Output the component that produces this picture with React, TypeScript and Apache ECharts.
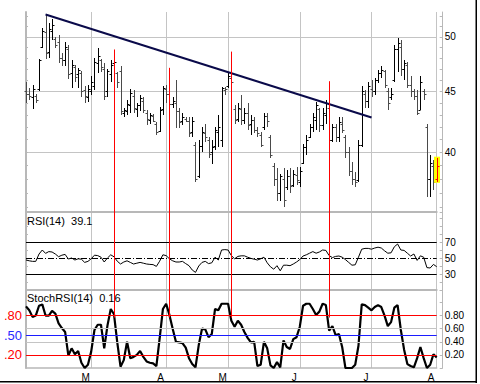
import React, { useEffect, useRef } from 'react';
import * as echarts from 'echarts';

const FONT = '"Liberation Sans", Arial, sans-serif';

const monthNames = ['Feb', 'Mar', 'Apr', 'May', 'Jun', 'Jul', 'Aug'];
const monthLetters = ['F', 'M', 'A', 'M', 'J', 'J', 'A'];
const monthCounts = [20, 23, 19, 22, 22, 20, 1];

const opens = [
  45.0, 44.8, 44.5, 44.6, 45.2, 49.0, 50.5, 48.6, 50.6, 49.8,
  49.5, 48.0, 47.8, 48.8, 46.6, 47.2, 46.5, 46.6, 45.1, 44.5,
  45.0, 45.5, 47.5, 47.8, 47.0, 45.0, 46.5, 47.5, 46.6, 46.8,
  43.2, 43.3, 43.8, 44.6, 43.5, 43.8, 44.2, 43.2, 42.6, 42.9,
  42.3, 41.7, 43.5, 45.2, 44.8, 43.9, 44.0, 43.3, 42.5, 42.7,
  42.5, 41.6, 40.6, 38.2, 40.5, 41.5, 41.0, 40.0, 40.5, 41.6,
  41.0, 45.1, 45.5, 46.2, 43.5, 42.7, 43.5, 42.6, 43.2, 42.3,
  42.6, 41.8, 41.4, 42.0, 42.9, 41.2, 39.0, 38.0, 37.0, 38.0,
  37.4, 38.2, 37.6, 38.3, 37.8, 39.2, 40.4, 41.2, 42.0, 42.6,
  43.5, 42.2, 43.0, 43.6, 41.0, 42.0, 41.2, 42.3, 41.2, 40.0,
  38.6, 38.0, 37.9, 40.6, 44.8, 44.2, 45.2, 45.0, 46.0, 46.6,
  46.8, 45.0, 44.5, 46.0, 48.8, 49.0, 47.0, 47.4, 45.6, 45.0,
  44.6, 43.4, 45.0, 42.0, 38.0, 39.0, 38.0,
];
const highs = [
  45.8, 45.3, 45.6, 44.8, 47.9, 50.9, 52.3, 51.4, 51.8, 50.0,
  50.2, 48.5, 49.5, 49.2, 47.8, 47.4, 47.1, 46.8, 45.5, 45.6,
  46.4, 48.0, 48.9, 47.9, 47.5, 47.0, 47.8, 47.8, 46.7, 47.3,
  43.6, 44.3, 45.2, 45.1, 44.0, 44.7, 44.5, 43.4, 43.2, 43.1,
  42.4, 43.7, 45.5, 45.6, 46.0, 44.5, 46.0, 43.6, 43.2, 42.8,
  42.8, 42.8, 40.8, 41.0, 42.0, 42.3, 41.2, 41.0, 42.0, 43.0,
  45.4, 45.4, 46.7, 46.3, 43.8, 44.0, 44.7, 43.6, 44.0, 43.0,
  42.8, 42.0, 41.6, 43.2, 43.2, 41.4, 39.2, 38.8, 38.4, 38.8,
  38.7, 38.8, 38.7, 38.9, 38.9, 40.7, 41.4, 42.3, 43.2, 44.1,
  43.6, 43.6, 44.3, 43.8, 42.3, 42.3, 42.8, 42.8, 41.4, 40.4,
  39.3, 38.5, 41.0, 45.5, 45.1, 45.8, 46.0, 46.2, 46.9, 47.3,
  46.9, 45.3, 45.3, 49.2, 49.9, 49.7, 47.8, 47.6, 46.4, 45.2,
  45.1, 46.4, 45.2, 42.3, 39.8, 39.4, 39.6,
];
const lows = [
  44.0, 44.3, 43.5, 44.0, 45.0, 48.9, 47.9, 48.0, 49.7, 48.9,
  47.5, 47.3, 47.3, 46.1, 45.3, 45.8, 45.3, 44.5, 44.0, 44.1,
  44.7, 45.1, 46.6, 46.7, 44.3, 44.5, 45.8, 46.6, 45.3, 43.0,
  42.8, 43.0, 43.2, 43.2, 42.8, 43.3, 43.2, 42.2, 42.3, 42.4,
  41.4, 41.6, 43.0, 44.0, 41.6, 43.6, 41.9, 41.9, 42.2, 42.4,
  41.2, 41.2, 37.8, 38.1, 40.0, 40.8, 39.6, 39.1, 40.2, 40.4,
  40.4, 44.7, 45.3, 45.5, 42.3, 42.4, 42.2, 42.3, 41.8, 41.4,
  41.5, 41.2, 40.4, 41.8, 42.0, 39.6, 37.5, 36.4, 36.4, 36.0,
  37.2, 37.0, 37.4, 37.6, 37.4, 39.1, 39.8, 41.1, 41.6, 41.8,
  41.6, 41.8, 42.3, 40.4, 40.8, 40.8, 40.8, 41.5, 39.6, 38.2,
  37.6, 37.4, 37.8, 40.4, 43.6, 43.6, 44.5, 44.7, 45.7, 46.2,
  45.3, 43.4, 44.3, 45.8, 46.7, 46.4, 46.0, 45.3, 44.5, 44.3,
  43.0, 43.4, 44.3, 36.7, 36.7, 37.2, 37.8,
];
const closes = [
  44.8, 44.6, 45.2, 44.3, 47.8, 50.6, 48.5, 50.8, 51.2, 49.2,
  48.0, 47.8, 49.0, 46.5, 47.4, 46.3, 46.9, 45.0, 44.6, 45.2,
  45.8, 47.6, 48.2, 47.2, 44.6, 46.8, 47.4, 47.6, 45.8, 43.3,
  43.4, 43.9, 44.9, 43.6, 43.8, 44.4, 43.4, 42.7, 43.0, 42.5,
  41.6, 43.4, 45.3, 44.8, 43.9, 44.2, 43.3, 42.4, 42.8, 42.5,
  41.5, 42.5, 38.0, 40.5, 41.6, 41.2, 39.9, 40.4, 41.8, 42.0,
  45.3, 45.2, 46.4, 45.8, 42.6, 43.6, 42.6, 43.2, 42.2, 42.6,
  41.8, 41.5, 40.6, 42.9, 42.5, 39.8, 38.0, 37.0, 38.2, 36.5,
  38.2, 37.5, 38.4, 37.9, 38.6, 40.4, 41.0, 42.0, 42.8, 43.8,
  42.2, 43.2, 44.0, 41.0, 42.0, 41.2, 42.4, 41.8, 40.0, 38.6,
  38.0, 37.8, 40.6, 45.0, 44.2, 45.5, 45.0, 46.0, 46.6, 46.9,
  45.6, 44.0, 44.8, 48.8, 49.4, 47.0, 47.5, 45.6, 45.0, 44.6,
  43.2, 45.8, 44.8, 38.0, 39.2, 37.8, 39.0,
];

const rsi = [
  47.5, 46.5, 45.8, 45.8, 55, 60, 55.8, 58, 57.5, 55,
  51.6, 53.5, 54.5, 48.7, 50, 47.5, 49, 48.5, 44.5, 45.8,
  49, 53.5, 53, 51, 45, 50, 54, 51.5, 46, 42.5,
  45, 46.5, 44.5, 42.5, 43.5, 44.5, 43.5, 42.5, 42, 41.7,
  39.5, 46, 54, 53, 49, 46.5, 45, 45, 45.8, 43,
  40.4, 35, 32, 40, 44.5, 45.8, 43, 44, 51, 47.5,
  60, 60.5, 60, 53, 49, 52, 52.7, 52.7, 51, 49.5,
  48.5, 47.5, 49, 51, 44, 39, 36, 40.4, 34, 41,
  41, 40.4, 42.5, 45, 48, 52.5, 54, 56, 58, 56,
  57.5, 60, 59.5, 53, 50.5, 52, 52.5, 51, 48, 44.5,
  41, 41.5, 51, 61, 62, 62, 61, 62.5, 63.5, 62.5,
  59, 56, 56.5, 64, 67.5, 60, 59.5, 56, 52.5, 55,
  47, 52.7, 51, 38, 37.5, 42, 39.1,
];

const stochRsi = [
  0.94, 0.88, 0.78, 0.80, 0.95, 0.97, 0.80, 0.80, 0.87, 0.83,
  0.68, 0.61, 0.55, 0.19, 0.30, 0.21, 0.26, 0.08, 0.00, 0.05,
  0.25, 0.58, 0.66, 0.66, 0.30, 0.65, 0.90, 0.82, 0.39, 0.02,
  0.12, 0.40, 0.15, 0.17, 0.20, 0.26, 0.17, 0.10, 0.08, 0.07,
  0.03, 0.45, 0.90, 0.98, 0.81, 0.60, 0.40, 0.39, 0.38, 0.31,
  0.15, 0.06, 0.01, 0.35, 0.60, 0.59, 0.47, 0.52, 0.90, 0.88,
  0.98, 0.98, 0.98, 0.72, 0.63, 0.72, 0.66, 0.55, 0.46, 0.39,
  0.40, 0.03, 0.05, 0.40, 0.30, 0.04, 0.00, 0.09, 0.01, 0.42,
  0.32, 0.29, 0.44, 0.47, 0.63, 0.95, 0.98, 0.98, 0.90, 0.81,
  0.86, 0.98, 0.96, 0.57, 0.64, 0.50, 0.52, 0.32, 0.00, 0.00,
  0.00, 0.05, 0.34, 0.97, 0.96, 0.92, 0.88, 0.93, 0.96, 0.93,
  0.80, 0.64, 0.70, 0.92, 0.96, 0.58, 0.28, 0.06, 0.03, 0.01,
  0.15, 0.32, 0.15, 0.00, 0.05, 0.21, 0.16,
];

const priceMin = 35.66;
const priceMax = 52.46;
const rsiMin = 10;
const rsiMax = 107.5;
const stochMin = 0;
const stochMax = 1.19;
const priceGridLevels = [40, 45, 50];
const priceMinorTicks = [36, 37, 38, 39, 40, 41, 42, 43, 44, 45, 46, 47, 48, 49, 50, 51, 52];
const rsiLabels = [30, 50, 70];
const rsiBands = [70, 30];
const rsiMid = 50;
const stochRightLabels = [0.2, 0.4, 0.6, 0.8];
const stochGrayLevels = [0.4, 0.6];
const stochRedLevels = [0.8, 0.2];
const stochBlueLevel = 0.5;
const trendLine = [[6, 52.2], [106, 42.8]];
const signalDays = [27, 44, 63, 93];
const signalPriceTops = [48.8, 47.1, 48.6, 45.9];
const signalStochEnd = 0.77;
const rsiTitle = 'RSI(14)  39.1';
const stochTitle = 'StochRSI(14)  0.16';

const categories: string[] = [];
const monthStartLetter: Record<number, string> = {};
{
  let k = 0;
  monthCounts.forEach((n, m) => {
    if (m > 0) monthStartLetter[k] = monthLetters[m];
    for (let d = 1; d <= n; d++) {
      categories.push(`${monthNames[m]} ${d}`);
      k++;
    }
  });
}
const isMonthStart = (i: number) => monthStartLetter[i] !== undefined;
const N = categories.length;

const GRID_LINE = '#c4c4c4';
const BORDER = '#b8b8b8';
const RED = '#ff0000';

const crisp = (v: number) => Math.round(v) + 0.5;

// custom series drawing crisp red vertical signal lines between two values on one panel
const signalSeries = (xi: number, yi: number, rows: number[][]) => ({
  type: 'custom',
  xAxisIndex: xi,
  yAxisIndex: yi,
  z: 6,
  silent: true,
  encode: { x: 0, y: [1, 2] },
  data: rows,
  renderItem: (_p: any, api: any) => {
    const d = api.value(0);
    const a = api.coord([d, api.value(1)]);
    const b = api.coord([d, api.value(2)]);
    const x = crisp(a[0]);
    return {
      type: 'line',
      shape: { x1: x, y1: a[1], x2: x, y2: b[1] },
      style: { stroke: RED, lineWidth: 1 },
    };
  },
});

function buildOption(): any {
  const grids = [
    { left: 26, right: 43.3, top: 12, height: 200 },
    { left: 26, right: 43.3, top: 212, height: 78 },
    { left: 26, right: 43.3, top: 290, height: 78 },
  ];
  const makeX = (gi: number) => ({
    type: 'category',
    gridIndex: gi,
    data: categories,
    boundaryGap: false,
    axisLine: { show: true, onZero: false, lineStyle: { color: BORDER, width: gi === 2 ? 1.5 : 2 } },
    axisTick: { show: false },
    splitLine: { show: true, interval: (i: number) => isMonthStart(i), lineStyle: { color: GRID_LINE, width: 1 } },
    axisLabel:
      gi === 2
        ? {
            show: true,
            interval: (i: number) => isMonthStart(i),
            formatter: (_v: string, i: number) => monthStartLetter[i] ?? '',
            color: '#000',
            fontSize: 10,
            fontFamily: FONT,
            margin: 4,
            padding: [0, 11, 0, 0],
          }
        : { show: false },
  });

  const yAxis: any[] = [
    // 0 price right
    {
      type: 'log', gridIndex: 0, position: 'right', offset: 6, min: priceMin, max: priceMax,
      axisLine: { show: true, lineStyle: { color: BORDER, width: 1 } },
      axisTick: { show: true, inside: true, length: 3, customValues: priceMinorTicks, lineStyle: { color: BORDER } },
      axisLabel: { show: true, customValues: priceGridLevels, color: '#000', fontSize: 10, fontFamily: FONT, margin: 2 },
      splitLine: { show: false },
    },
    // 1 price left (border + gridlines)
    {
      type: 'log', gridIndex: 0, position: 'left', min: priceMin, max: priceMax,
      axisLine: { show: true, lineStyle: { color: BORDER, width: 2 } },
      axisTick: { show: false, customValues: priceGridLevels },
      axisLabel: { show: false },
      splitLine: { show: true, lineStyle: { color: GRID_LINE, width: 1 } },
    },
    // 2 price left minor ticks
    {
      type: 'log', gridIndex: 0, position: 'left', min: priceMin, max: priceMax,
      axisLine: { show: false },
      axisTick: { show: true, inside: true, length: 2, customValues: priceMinorTicks, lineStyle: { color: BORDER } },
      axisLabel: { show: false },
      splitLine: { show: false },
    },
    // 3 rsi left
    {
      type: 'value', gridIndex: 1, position: 'left', min: rsiMin, max: rsiMax, interval: 10,
      axisLine: { show: true, lineStyle: { color: BORDER, width: 2 } },
      axisTick: { show: true, inside: true, length: 2, lineStyle: { color: BORDER } },
      axisLabel: { show: false },
      splitLine: { show: false },
    },
    // 4 rsi right
    {
      type: 'value', gridIndex: 1, position: 'right', offset: 6, min: rsiMin, max: rsiMax, interval: 10,
      axisLine: { show: true, lineStyle: { color: BORDER, width: 1 } },
      axisTick: { show: true, inside: true, length: 3, lineStyle: { color: BORDER } },
      axisLabel: {
        show: true, color: '#000', fontSize: 10, fontFamily: FONT, margin: 2,
        formatter: (v: number) => (rsiLabels.includes(Math.round(v)) ? String(Math.round(v)) : ''),
      },
      splitLine: { show: false },
    },
    // 5 stoch left
    {
      type: 'value', gridIndex: 2, position: 'left', min: stochMin, max: stochMax, interval: 0.1,
      axisLine: { show: true, lineStyle: { color: BORDER, width: 2 } },
      axisTick: { show: false },
      axisLabel: {
        show: true, margin: 4, fontFamily: FONT,
        formatter: (v: number) => {
          if (Math.abs(v - 0.8) < 1e-6) return '{r|.80}';
          if (Math.abs(v - 0.5) < 1e-6) return '{b|.50}';
          if (Math.abs(v - 0.2) < 1e-6) return '{r|.20}';
          return '';
        },
        rich: {
          r: { color: RED, fontSize: 13, fontFamily: FONT },
          b: { color: '#2828ff', fontSize: 13, fontFamily: FONT },
        },
      },
      splitLine: { show: false },
    },
    // 6 stoch right
    {
      type: 'value', gridIndex: 2, position: 'right', offset: 6, min: stochMin, max: stochMax, interval: 0.2,
      axisLine: { show: true, lineStyle: { color: BORDER, width: 1 } },
      axisTick: { show: true, inside: true, length: 3, lineStyle: { color: BORDER } },
      axisLabel: {
        show: true, color: '#000', fontSize: 10, fontFamily: FONT, margin: 2,
        formatter: (v: number) => (stochRightLabels.some((s) => Math.abs(s - v) < 1e-6) ? v.toFixed(2) : ''),
      },
      splitLine: { show: false },
    },
  ];

  const ohlcData = categories.map((_c, i) => [i, opens[i], highs[i], lows[i], closes[i]]);
  const noSym = ['none', 'none'];

  const series: any[] = [
    {
      type: 'custom',
      xAxisIndex: 0,
      yAxisIndex: 0,
      z: 3,
      silent: true,
      encode: { x: 0, y: [1, 2, 3, 4] },
      data: ohlcData,
      renderItem: (_params: any, api: any) => {
        const i = api.value(0);
        const ph = api.coord([i, api.value(2)]);
        const pl = api.coord([i, api.value(3)]);
        const po = api.coord([i, api.value(1)]);
        const pc = api.coord([i, api.value(4)]);
        const x = crisp(ph[0]);
        const last = i === N - 1;
        const prev = i > 0 ? closes[i - 1] : opens[i];
        const color = last ? RED : closes[i] >= prev ? '#000000' : '#4a4a4a';
        const children: any[] = [];
        if (last) {
          children.push({
            type: 'rect',
            shape: { x: x - 3.5, y: ph[1] - 1, width: 6, height: pl[1] - ph[1] + 2 },
            style: { fill: '#ffff00' },
          });
        }
        children.push(
          { type: 'line', shape: { x1: x, y1: Math.round(ph[1]), x2: x, y2: Math.round(pl[1]) }, style: { stroke: color, lineWidth: 1 } },
          { type: 'line', shape: { x1: x - 2, y1: crisp(po[1]), x2: x, y2: crisp(po[1]) }, style: { stroke: color, lineWidth: 1 } },
          { type: 'line', shape: { x1: x, y1: crisp(pc[1]), x2: x + 2, y2: crisp(pc[1]) }, style: { stroke: color, lineWidth: 1 } }
        );
        return { type: 'group', children };
      },
      markLine: {
        silent: true,
        symbol: noSym,
        label: { show: false },
        animation: false,
        lineStyle: { color: '#0a0a4a', width: 2, type: 'solid' },
        data: [[{ coord: trendLine[0] }, { coord: trendLine[1] }]],
      },
    },
    signalSeries(0, 0, signalDays.map((d, k) => [d, signalPriceTops[k], priceMin])),
    {
      type: 'line',
      xAxisIndex: 1,
      yAxisIndex: 3,
      data: rsi,
      symbol: 'none',
      silent: true,
      z: 3,
      lineStyle: { color: '#000', width: 1 },
      markLine: {
        silent: true,
        symbol: noSym,
        label: { show: false },
        animation: false,
        lineStyle: { color: '#000', width: 1, type: 'solid' },
        data: [
          ...rsiBands.map((v) => ({ yAxis: v })),
          { yAxis: rsiMid, lineStyle: { color: '#000', width: 1, type: [6, 2, 1, 2] } },
        ],
      },
    },
    signalSeries(1, 3, signalDays.map((d) => [d, rsiMax, rsiMin])),
    {
      type: 'line',
      xAxisIndex: 2,
      yAxisIndex: 5,
      data: stochRsi,
      symbol: 'none',
      silent: true,
      z: 3,
      lineStyle: { color: '#000', width: 2.2 },
      markLine: {
        silent: true,
        symbol: noSym,
        label: { show: false },
        animation: false,
        lineStyle: { color: GRID_LINE, width: 1, type: 'solid' },
        data: [
          ...stochGrayLevels.map((v) => ({ yAxis: v })),
          { yAxis: stochBlueLevel, lineStyle: { color: '#1c1cff', width: 1, type: 'solid' } },
          ...stochRedLevels.map((v) => ({ yAxis: v, lineStyle: { color: RED, width: 1, type: 'solid' } })),
        ],
      },
    },
    signalSeries(2, 5, signalDays.map((d) => [d, stochMax, signalStochEnd])),
  ];

  return {
    animation: false,
    backgroundColor: '#ffffff',
    grid: grids,
    xAxis: [makeX(0), makeX(1), makeX(2)],
    yAxis,
    series,
    graphic: [
      {
        type: 'text', x: 27, y: 215, z: 10,
        style: { text: rsiTitle, fill: '#000', fontSize: 11, fontFamily: FONT, verticalAlign: 'top' },
      },
      {
        type: 'text', x: 27, y: 292, z: 10,
        style: { text: stochTitle, fill: '#000', fontSize: 11, fontFamily: FONT, verticalAlign: 'top' },
      },
      { type: 'rect', z: 10, shape: { x: 475.5, y: 0, width: 1.5, height: 383 }, style: { fill: '#000' } },
      { type: 'rect', z: 10, shape: { x: 0, y: 381, width: 477, height: 1.5 }, style: { fill: '#000' } },
    ],
  };
}

export default function App() {
  const ref = useRef<HTMLDivElement>(null);
  useEffect(() => {
    if (!ref.current) return;
    const chart = echarts.init(ref.current, undefined, { renderer: 'svg' });
    chart.setOption(buildOption());
    return () => chart.dispose();
  }, []);
  return (
    <div
      ref={ref}
      style={{ position: 'absolute', left: 0, top: 0, width: 480, height: 384, background: '#fff' }}
    />
  );
}
